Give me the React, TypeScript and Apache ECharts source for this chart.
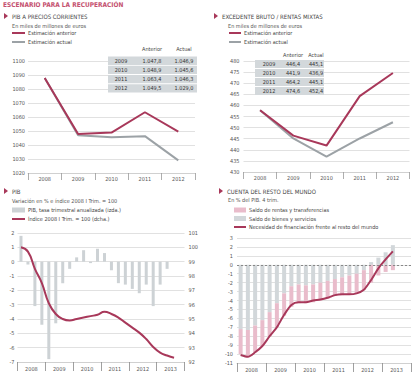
import React, { useEffect, useRef } from "react";
import * as echarts from "echarts";

// ---------- DATA ----------
const years5 = ["2008", "2009", "2010", "2011", "2012"];
const pibAnterior = [1087.8, 1047.8, 1048.9, 1063.4, 1049.5];
const pibActual = [1087.8, 1046.9, 1045.6, 1046.3, 1029.0];
const ebeAnterior = [457.8, 446.4, 441.9, 464.2, 474.6];
const ebeActual = [457.8, 445.1, 436.9, 445.1, 452.4];

const years6 = ["2008", "2009", "2010", "2011", "2012", "2013"];
const quarterNames = ["I", "II", "III", "IV"];
const quarters = years6.flatMap((y) => quarterNames.map((q) => `${q} ${y}`));

const pibTasa = [1.8, -0.2, -3.1, -4.4, -6.8, -4.3, -1.5, -0.5, 0.3, 0.8, -0.1, 0.9, 0.6, -0.6, -1.5, -1.6, -1.9, -2.2, -1.6, -3.1, -1.6, -0.5, null, null];
const pibIndice = [100, 99.7, 98.5, 97.5, 96.1, 95.35, 95.0, 94.9, 95.0, 95.1, 95.2, 95.3, 95.5, 95.35, 95.1, 94.75, 94.4, 94.05, 93.6, 93.05, 92.65, 92.45, 92.3, null];

const saldoBienes = [-7.2, -7.3, -6.8, -6.2, -5.3, -4.3, -3.2, -2.4, -2.2, -2.3, -2.2, -2.0, -1.8, -1.6, -1.4, -1.2, -1.0, -0.6, 0.3, 0.8, 1.4, 2.2, null, null];
const saldoRentas = [-2.8, -3.0, -3.0, -2.9, -2.7, -2.7, -2.5, -2.3, -2.1, -2.0, -2.0, -2.0, -2.0, -1.9, -2.0, -2.1, -2.2, -2.2, -2.0, -1.2, -0.8, -0.6, null, null];
const necesidad = [-10.1, -10.3, -9.8, -9.1, -8.0, -7.0, -5.6, -4.5, -4.2, -4.2, -4.0, -3.9, -3.7, -3.4, -3.3, -3.3, -3.2, -2.8, -1.7, -0.4, 0.6, 1.5, null, null];

// ---------- STYLE ----------
const FF = "'Liberation Sans Narrow','DejaVu Sans Condensed',Roboto,'Liberation Sans',sans-serif";
const RED = "#a8385a";
const GRAYLINE = "#9ca2a6";
const GRID = "#d9d9d9";
const LABEL = "#555";
const TITLE_RED = "#c4516f";

const fmt = (v: number) => {
  const s = v.toFixed(1).replace(".", ",");
  const [i, d] = s.split(",");
  const ii = i.length > 3 ? i.slice(0, i.length - 3) + "." + i.slice(i.length - 3) : i;
  return ii + "," + d;
};

const txt = (x: number, y: number, text: string, size: number, fill: string, opts: any = {}) => ({
  type: "text",
  x,
  y,
  z: 100,
  silent: true,
  style: {
    text,
    fontSize: size,
    fontFamily: FF,
    fill,
    fontWeight: opts.bold ? "bold" : "normal",
    align: opts.align || "left",
    textAlign: opts.align || "left",
    verticalAlign: "middle",
    textVerticalAlign: "middle",
  },
});

const tri = (x: number, y: number) => ({
  type: "polygon",
  silent: true,
  z: 100,
  shape: { points: [[x, y - 3], [x, y + 3], [x + 4, y]] },
  style: { fill: RED },
});

function table(
  x: number,
  y0: number,
  w: number,
  rowH: number,
  headerY: number,
  cols: number[],
  yrs: string[],
  a: number[],
  b: number[]
) {
  const els: any[] = [];
  els.push(txt(cols[1], headerY, "Anterior", 5.5, "#444", { align: "center" }));
  els.push(txt(cols[2], headerY, "Actual", 5.5, "#444", { align: "center" }));
  yrs.forEach((yr, k) => {
    const top = y0 + k * rowH;
    els.push({
      type: "rect",
      silent: true,
      z: 99,
      shape: { x, y: top, width: w, height: rowH - 0.9 },
      style: { fill: "#d3d8db" },
    });
    const cy = top + (rowH - 0.9) / 2;
    els.push(txt(cols[0], cy, yr, 5.5, "#333", { align: "center" }));
    els.push(txt(cols[1], cy, fmt(a[k]), 5.5, "#333", { align: "center" }));
    els.push(txt(cols[2], cy, fmt(b[k]), 5.5, "#333", { align: "center" }));
  });
  return els;
}

const legend = (name: string, left: number, cy: number, h: number, w: number) => ({
  show: true,
  left,
  top: cy - 4,
  padding: 0,
  itemGap: 0,
  itemWidth: w,
  itemHeight: h,
  icon: "rect",
  selectedMode: false,
  data: [name],
  textStyle: { fontSize: 5.5, fontFamily: FF, color: "#444", lineHeight: 8, padding: [0, 0, 0, -2] },
});

const yLab = (margin = 3) => ({ fontSize: 5.5, color: LABEL, fontFamily: FF, margin, formatter: (v: number) => String(v) });
const split = { show: true, lineStyle: { color: GRID, width: 0.8 } };

export default function App() {
  const ref = useRef<HTMLDivElement>(null);
  useEffect(() => {
    document.body.style.margin = "0";
    if (!ref.current) return;
    const chart = echarts.init(ref.current, undefined, { renderer: "svg" });

    const yrsT = years5.slice(1);
    const graphic: any[] = [
      txt(3, 5, "ESCENARIO PARA LA RECUPERACIÓN", 6.5, TITLE_RED, { bold: true }),
      tri(4, 16),
      txt(12, 16, "PIB A PRECIOS CORRIENTES", 6, "#444"),
      txt(12, 25.5, "En miles de millones de euros", 5.5, "#555"),
      tri(214, 16),
      txt(222, 16, "EXCEDENTE BRUTO / RENTAS MIXTAS", 6, "#444"),
      txt(228, 25.5, "En miles de millones de euros", 5.5, "#555"),
      tri(4, 191),
      txt(12, 191, "PIB", 6, "#444"),
      txt(12, 201, "Variación en % e índice 2008 I Trim. = 100", 5.5, "#555"),
      tri(219, 191),
      txt(227, 191, "CUENTA DEL RESTO DEL MUNDO", 6, "#444"),
      txt(228, 200, "En % del PIB. 4 trim.", 5.5, "#555"),
      ...table(108, 56.6, 89, 9.2, 49, [121, 152, 184], yrsT, pibAnterior.slice(1), pibActual.slice(1)),
      ...table(255, 60, 69, 9, 55, [269, 293, 316], yrsT, ebeAnterior.slice(1), ebeActual.slice(1)),
    ];

    const catAxisTop = (gridIndex: number) => ({
      type: "category",
      gridIndex,
      data: years5,
      boundaryGap: true,
      axisLine: { show: true, lineStyle: { color: "#ccc", width: 0.8 } },
      axisTick: { show: true, interval: 0, length: 7, lineStyle: { color: "#999", width: 0.8 } },
      axisLabel: { fontSize: 5.5, color: LABEL, fontFamily: FF, margin: 3 },
    });
    const yearAxisBottom = (gridIndex: number) => ({
      type: "category",
      gridIndex,
      data: years6,
      boundaryGap: true,
      position: "bottom",
      axisLine: { show: true, lineStyle: { color: "#ccc", width: 0.8 } },
      axisTick: { show: true, interval: 0, length: 9, lineStyle: { color: "#888", width: 0.8 } },
      axisLabel: { fontSize: 5.5, color: LABEL, fontFamily: FF, margin: 4 },
    });
    const hiddenQ = (gridIndex: number) => ({
      type: "category",
      gridIndex,
      data: quarters,
      boundaryGap: true,
      show: false,
    });

    chart.setOption({
      animation: false,
      textStyle: { fontFamily: FF },
      graphic,
      legend: [
        legend("Estimación anterior", 12, 33, 2, 13),
        legend("Estimación actual", 12, 42, 2, 13),
        legend("PIB, tasa trimestral anualizada (izda.)", 12, 210, 5, 13),
        legend("Índice 2008 I Trim. = 100 (dcha.)", 12, 219, 2, 13),
        legend("Saldo de rentas y transferencias", 234, 210, 5, 12),
        legend("Saldo de bienes y servicios", 234, 218.5, 5, 12),
        legend("Necesidad de financiación frente al resto del mundo", 234, 227, 2, 12),
        legend("Estimación anterior ", 229, 33, 2, 12),
        legend("Estimación actual ", 229, 42, 2, 12),
      ],
      grid: [
        { left: 28, top: 61, width: 167, height: 112, containLabel: false, outerBoundsMode: "none" },
        { left: 243.5, top: 61, width: 166, height: 111, containLabel: false, outerBoundsMode: "none" },
        { left: 17.5, top: 233, width: 167, height: 129, containLabel: false, outerBoundsMode: "none" },
        { left: 237, top: 238, width: 174, height: 125, containLabel: false, outerBoundsMode: "none" },
      ],
      xAxis: [catAxisTop(0), catAxisTop(1), hiddenQ(2), yearAxisBottom(2), hiddenQ(3), yearAxisBottom(3)],
      yAxis: [
        { type: "value", gridIndex: 0, min: 1020, max: 1100, interval: 10, axisLabel: yLab(3), splitLine: split, axisLine: { show: false }, axisTick: { show: false } },
        { type: "value", gridIndex: 1, min: 430, max: 480, interval: 5, axisLabel: yLab(4), splitLine: split, axisLine: { show: false }, axisTick: { show: false } },
        { type: "value", gridIndex: 2, min: -7, max: 2, interval: 1, axisLabel: yLab(3), splitLine: split, axisLine: { show: false }, axisTick: { show: false } },
        { type: "value", gridIndex: 2, position: "right", min: 92, max: 101, interval: 1, axisLabel: yLab(4), splitLine: { show: false }, axisLine: { show: false }, axisTick: { show: false } },
        { type: "value", gridIndex: 3, min: -11, max: 3, interval: 1, axisLabel: yLab(4), splitLine: split, axisLine: { show: false }, axisTick: { show: false } },
      ],
      series: [
        { name: "Estimación actual", type: "line", xAxisIndex: 0, yAxisIndex: 0, data: pibActual, symbol: "none", lineStyle: { color: GRAYLINE, width: 2 }, itemStyle: { color: GRAYLINE }, z: 3 },
        { name: "Estimación anterior", type: "line", xAxisIndex: 0, yAxisIndex: 0, data: pibAnterior, symbol: "none", lineStyle: { color: RED, width: 2 }, itemStyle: { color: RED }, z: 4 },
        { name: "Estimación actual ", type: "line", xAxisIndex: 1, yAxisIndex: 1, data: ebeActual, symbol: "none", lineStyle: { color: GRAYLINE, width: 2 }, itemStyle: { color: GRAYLINE }, z: 3 },
        { name: "Estimación anterior ", type: "line", xAxisIndex: 1, yAxisIndex: 1, data: ebeAnterior, symbol: "none", lineStyle: { color: RED, width: 2 }, itemStyle: { color: RED }, z: 4 },
        { name: "PIB, tasa trimestral anualizada (izda.)", type: "bar", xAxisIndex: 2, yAxisIndex: 2, data: pibTasa, barWidth: 3, itemStyle: { color: "#cdd2d5" }, z: 2 },
        { name: "Índice 2008 I Trim. = 100 (dcha.)", type: "line", xAxisIndex: 2, yAxisIndex: 3, data: pibIndice, symbol: "none", smooth: true, lineStyle: { color: RED, width: 2 }, itemStyle: { color: RED }, z: 4 },
        {
          name: "Saldo de bienes y servicios", type: "bar", stack: "cta", xAxisIndex: 4, yAxisIndex: 4, data: saldoBienes, barWidth: 4, itemStyle: { color: "#d2d7da" }, z: 2,
          markLine: { silent: true, symbol: "none", label: { show: false }, lineStyle: { color: "#888", type: [2, 2], width: 1 }, data: [{ yAxis: 0 }] },
        },
        { name: "Saldo de rentas y transferencias", type: "bar", stack: "cta", xAxisIndex: 4, yAxisIndex: 4, data: saldoRentas, barWidth: 4, itemStyle: { color: "#e9bccb" }, z: 2 },
        { name: "Necesidad de financiación frente al resto del mundo", type: "line", xAxisIndex: 4, yAxisIndex: 4, data: necesidad, symbol: "none", smooth: 0.25, lineStyle: { color: RED, width: 2 }, itemStyle: { color: RED }, z: 4 },
      ],
    });
    return () => chart.dispose();
  }, []);
  return <div ref={ref} style={{ width: 414, height: 375 }} />;
}
